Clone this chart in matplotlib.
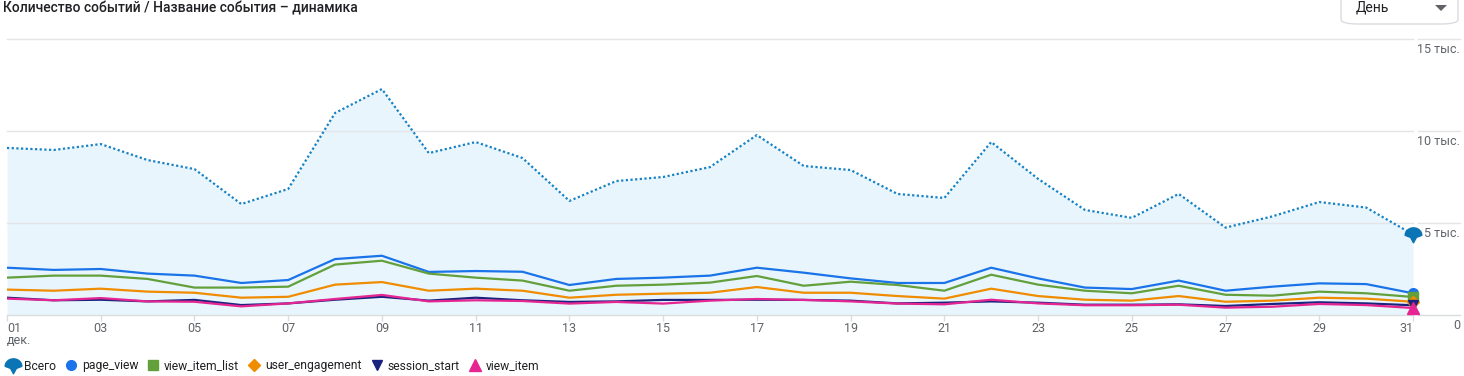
import numpy as np
import matplotlib
matplotlib.use("Agg")
import matplotlib.pyplot as plt
from matplotlib.path import Path
from matplotlib.lines import Line2D
from matplotlib.patches import FancyBboxPatch, Polygon
import matplotlib.transforms as mtransforms

plt.rcParams['font.family'] = ['Roboto', 'DejaVu Sans']

# data (events per day, December)
days = list(range(1, 32))
total = [9080, 8970, 9290, 8420, 7930, 6030, 6850, 10980, 12280, 8800, 9400,
         8530, 6200, 7280, 7500, 8040, 9780, 8100, 7880, 6580, 6360, 9400,
         7400, 5710, 5280, 6580, 4750, 5360, 6140, 5840, 4380]
page_view = [2570, 2450, 2500, 2250, 2140, 1740, 1900, 3040, 3220, 2340, 2390,
             2350, 1630, 1960, 2030, 2140, 2570, 2300, 1990, 1740, 1740, 2570,
             1990, 1490, 1410, 1870, 1320, 1540, 1720, 1680, 1180]
view_item_list = [2030, 2140, 2140, 1960, 1490, 1490, 1540, 2740, 2950, 2250,
                  2030, 1870, 1320, 1590, 1650, 1760, 2120, 1590, 1810, 1630,
                  1320, 2190, 1650, 1320, 1180, 1590, 1100, 1050, 1270, 1180, 980]
user_engagement = [1380, 1320, 1430, 1270, 1210, 940, 990, 1650, 1790, 1320,
                   1430, 1320, 940, 1100, 1160, 1210, 1520, 1210, 1210, 1030,
                   890, 1430, 1030, 830, 780, 1030, 720, 780, 940, 890, 720]
session_start = [940, 800, 830, 740, 820, 540, 630, 830, 990, 780, 940, 800,
                 710, 740, 820, 820, 830, 820, 780, 630, 670, 740, 670, 560,
                 560, 580, 490, 600, 690, 630, 530]
view_item = [890, 800, 920, 740, 720, 470, 630, 870, 1090, 740, 800, 760, 620,
             710, 620, 780, 870, 820, 740, 620, 580, 830, 630, 530, 530, 560,
             400, 450, 600, 540, 380]

series_names = ["page_view", "view_item_list", "user_engagement", "session_start", "view_item"]
series_values = [page_view, view_item_list, user_engagement, session_start, view_item]
series_colors = ["#1a73e8", "#63a03c", "#f08c00", "#1a237e", "#e52592"]
series_markers = ["o", "s", "D", "v", "^"]
marker_sizes = [7, 7, 6, 7, 8]

y_ticks = [0, 5000, 10000, 15000]
y_labels = ["0", "5 тыс.", "10 тыс.", "15 тыс."]

W, H = 1464, 376
fig = plt.figure(figsize=(W / 100, H / 100), dpi=100)
ax = fig.add_axes([7 / W, 1 - 315 / H, (1413 - 7) / W, (315 - 39) / H])

# "pin" marker for the total
th = np.linspace(0, np.pi, 20)
verts = [(np.cos(t), -0.1 + 0.9 * np.sin(t)) for t in th]
verts += [(-0.35, -0.35), (0, -1.0), (0.35, -0.35), (1, -0.1)]
pin = Path(verts + [verts[0]], [Path.MOVETO] + [Path.LINETO] * (len(verts) - 1) + [Path.CLOSEPOLY])

total_color = "#1582c5"
ax.fill_between(days, 0, total, color="#e8f5fd", lw=0, zorder=1)
ax.plot(days, total, color=total_color, lw=1.6, ls=(0, (1, 1.1)), zorder=4)
ax.plot(days[-1:], total[-1:], ls="none", marker=pin, ms=12, color="#0b74b5",
        zorder=6, clip_on=False)

for name, vals, c, m, ms in zip(series_names, series_values, series_colors, series_markers, marker_sizes):
    ax.plot(days, vals, color=c, lw=1.6, zorder=5)
    ax.plot(days[-1:], vals[-1:], ls="none", marker=m, ms=ms, color=c, zorder=6, clip_on=False)

ax.set_xlim(1, 31)
ax.set_ylim(0, 15000)
for s in ax.spines.values():
    s.set_visible(False)
ax.set_yticks([])

# horizontal grid lines, continuing under the right-hand labels
trans = mtransforms.blended_transform_factory(ax.transAxes, ax.transData)
ext = (1460 - 7) / (1413 - 7)
gap = (1418 - 7) / (1413 - 7)
for v, lab in zip(y_ticks, y_labels):
    gc = "#dadce0" if v == 0 else "#e3e5e8"
    ax.plot([0, 1], [v, v], transform=trans, color=gc, lw=1, zorder=2, clip_on=False)
    ax.plot([gap, ext], [v, v], transform=trans, color=gc, lw=1, zorder=2, clip_on=False)
    ax.text(ext, v - 200, lab, transform=trans, ha="right", va="top",
            fontsize=9, color="#5f6368")

odd = days[::2]
ax.set_xticks(odd)
ax.set_xticklabels([f"{d:02d}" for d in odd], fontsize=9, color="#5f6368")
ax.tick_params(axis="x", length=4, width=1, color="#dadce0", pad=1)
labels = ax.get_xticklabels()
labels[0].set_ha("left")
labels[-1].set_ha("right")
fig.text(7 / W, 1 - 341 / H, "дек.", fontsize=9, color="#5f6368", va="center", ha="left")

# title
fig.text(3 / W, 1 - 8 / H, "Количество событий / Название события – динамика",
         fontsize=10, color="#202124", va="center", ha="left", fontweight="medium")

# dropdown
box = FancyBboxPatch((1341 / W, 1 - 24 / H), 117 / W, 40 / H,
                     boxstyle="round,pad=0,rounding_size=0.012", transform=fig.transFigure,
                     fc="white", ec="#dadce0", lw=1)
fig.add_artist(box)
fig.text(1356 / W, 1 - 7 / H, "День", fontsize=10, color="#202124", va="center", ha="left")
fig.add_artist(Polygon([(1435 / W, 1 - 5 / H), (1447 / W, 1 - 5 / H), (1441 / W, 1 - 11 / H)],
                       closed=True, transform=fig.transFigure, fc="#5f6368", ec="none"))

# legend
handles = [Line2D([], [], ls="none", marker=pin, ms=12, color="#0b74b5")]
handles += [Line2D([], [], ls="none", marker=m, ms=ms, color=c)
            for m, ms, c in zip(series_markers, marker_sizes, series_colors)]
leg = fig.legend(handles, ["Всего"] + series_names, loc="center left",
                 bbox_to_anchor=(4.4 / W, 1 - 366 / H), ncol=6, frameon=False,
                 fontsize=8.7, handlelength=0.95, handletextpad=0.45, columnspacing=0.75,
                 borderaxespad=0, borderpad=0.2)
for t in leg.get_texts():
    t.set_color("#202124")

fig.savefig("out.png", dpi=100)
